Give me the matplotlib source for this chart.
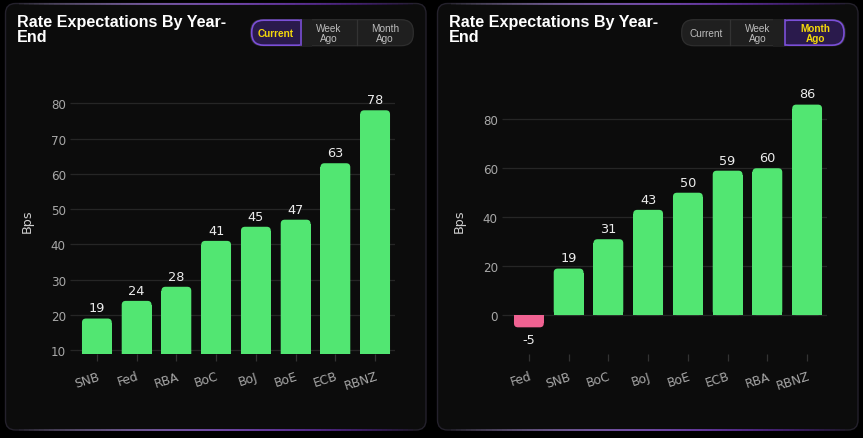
import matplotlib
matplotlib.use("Agg")
import matplotlib.pyplot as plt
from matplotlib.patches import FancyBboxPatch, Rectangle
from matplotlib.collections import LineCollection
import numpy as np

# ---------------- data ----------------
title = "Rate Expectations By Year-\nEnd"
buttons = ["Current", "Week\nAgo", "Month\nAgo"]

current_banks = ["SNB", "Fed", "RBA", "BoC", "BoJ", "BoE", "ECB", "RBNZ"]
current_values = [19, 24, 28, 41, 45, 47, 63, 78]

month_banks = ["Fed", "SNB", "BoC", "BoJ", "BoE", "ECB", "RBA", "RBNZ"]
month_values = [-5, 19, 31, 43, 50, 59, 60, 86]

left_yticks = [10, 20, 30, 40, 50, 60, 70, 80]
right_yticks = [0, 20, 40, 60, 80]
y_label = "Bps"

# ---------------- style ----------------
W, H = 863, 439
GREEN = "#52e672"
PINK = "#f06292"
CARD = "#0c0c0c"
GRID = "#262626"
TICK = "#a8a8a8"

fig = plt.figure(figsize=(W / 100, H / 100), dpi=100)
fig.patch.set_facecolor("#000000")

bg = fig.add_axes([0, 0, 1, 1], zorder=0)
bg.set_xlim(0, W)
bg.set_ylim(H, 0)
bg.axis("off")


def gradient_line(x0, x1, y, c0, c1, lw=1.2):
    xs = np.linspace(x0, x1, 80)
    segs = [[(xs[i], y), (xs[i + 1], y)] for i in range(len(xs) - 1)]
    c0 = np.array(matplotlib.colors.to_rgba(c0))
    c1 = np.array(matplotlib.colors.to_rgba(c1))
    t = np.linspace(0, 1, len(segs))
    cols = [c0 * (1 - ti) + c1 * ti for ti in t]
    for i, ti in enumerate(t):
        cols[i][3] = max(0.0, np.sin(np.pi * ti) ** 0.8) * 0.85
    bg.add_collection(LineCollection(segs, colors=cols, linewidths=lw, zorder=3))


def card(x0, x1, y0, y1):
    bg.add_patch(FancyBboxPatch((x0, y0), x1 - x0, y1 - y0,
                                boxstyle="round,pad=0,rounding_size=10",
                                facecolor=CARD, edgecolor="#24212c", linewidth=1.0, zorder=1))
    gradient_line(x0 + 8, x1 - 8, y0, "#b8a9d9", "#6a10d8")
    gradient_line(x0 + 8, x1 - 8, y1, "#b8a9d9", "#6a10d8")


def button_group(x_edges, y0, y1, active):
    x0, x3 = x_edges[0], x_edges[-1]
    bg.add_patch(FancyBboxPatch((x0, y0), x3 - x0, y1 - y0,
                                boxstyle="round,pad=0,rounding_size=12",
                                facecolor="#1f1f1f", edgecolor="#2e2e2e", linewidth=0.9, zorder=2))
    for xe in x_edges[1:-1]:
        bg.plot([xe, xe], [y0 + 0.5, y1 - 0.5], color="#333333", lw=0.9, zorder=3)
    a0, a1 = x_edges[active], x_edges[active + 1]
    if active == 0:
        style = FancyBboxPatch((a0 + 1, y0 + 0.5), a1 - a0 + 8, y1 - y0 - 1,
                               boxstyle="round,pad=0,rounding_size=12",
                               facecolor="#2a1a4c", edgecolor="#7b4fd8", linewidth=1.2, zorder=4)
        bg.add_patch(style)
        bg.add_patch(Rectangle((a1 - 1, y0 - 1), 12, y1 - y0 + 2, facecolor="#1f1f1f",
                               edgecolor="none", zorder=4.5))
        bg.plot([a1, a1], [y0 + 0.5, y1 - 0.5], color="#7b4fd8", lw=1.2, zorder=5)
    else:
        style = FancyBboxPatch((a0 - 8, y0 + 0.5), a1 - a0 + 7, y1 - y0 - 1,
                               boxstyle="round,pad=0,rounding_size=12",
                               facecolor="#2a1a4c", edgecolor="#7b4fd8", linewidth=1.2, zorder=4)
        bg.add_patch(style)
        bg.add_patch(Rectangle((a0 - 12, y0 - 1), 12, y1 - y0 + 2, facecolor="#1f1f1f",
                               edgecolor="none", zorder=4.5))
        bg.plot([a0, a0], [y0 + 0.5, y1 - 0.5], color="#7b4fd8", lw=1.2, zorder=5)
    for i, lab in enumerate(buttons):
        cx = (x_edges[i] + x_edges[i + 1]) / 2
        if i == active:
            bg.text(cx, (y0 + y1) / 2, lab, color="#f5d90a", fontsize=7.2, fontweight="bold",
                    family="Liberation Sans", ha="center", va="center", linespacing=0.95, zorder=6)
        else:
            bg.text(cx, (y0 + y1) / 2, lab, color="#bdbdbd", fontsize=7.2,
                    family="Liberation Sans", ha="center", va="center", linespacing=0.95, zorder=6)


card(5.5, 426, 4.5, 431)
card(437.5, 858, 4.5, 431)

for tx in (17, 449):
    bg.text(tx, 15.5, title, color="white", fontsize=11.6, fontweight="bold",
            family="Liberation Sans", ha="left", va="top", linespacing=0.95, zorder=6)

button_group([250.7, 301, 356.7, 413.3], 20.7, 46.7, 0)
button_group([681.7, 729.7, 785, 845], 20.7, 46.7, 2)


def px_axes(x0, x1, y0, y1):
    return fig.add_axes([x0 / W, 1 - y1 / H, (x1 - x0) / W, (y1 - y0) / H], zorder=2)


def draw_chart(ax, cats, vals, ylim, yticks, ylabel_text):
    ax.set_facecolor("none")
    ax.set_xlim(-0.5, len(cats) - 0.5)
    ax.set_ylim(*ylim)
    x = np.arange(len(cats))
    colors = [GREEN if v >= 0 else PINK for v in vals]
    bars = ax.bar(x, vals, width=0.75, color=colors)
    bb = ax.get_position()
    px_w = bb.width * W
    px_h = bb.height * H
    xu_per_px = (len(cats)) / px_w
    yu_per_px = (ylim[1] - ylim[0]) / px_h
    aspect = yu_per_px / xu_per_px
    rx = 4 * xu_per_px
    ry = rx * aspect
    for b, c in zip(bars, colors):
        b.set_visible(False)
        bx, bw = b.get_x(), b.get_width()
        h = b.get_height()
        y0 = b.get_y()
        lo, hi = min(y0, y0 + h), max(y0, y0 + h)
        ax.add_patch(FancyBboxPatch((bx, lo), bw, hi - lo,
                                    boxstyle=f"round,pad=0,rounding_size={rx}",
                                    mutation_aspect=aspect, facecolor=c, edgecolor="none", zorder=3))
        if h >= 0:
            ax.add_patch(Rectangle((bx, lo), bw, hi - lo - ry, facecolor=c, edgecolor="none", zorder=3))
            ax.annotate(f"{h:g}", (bx + bw / 2, hi), xytext=(0, 3), textcoords="offset points",
                        ha="center", va="bottom", color="#ececec", fontsize=9.3, zorder=5)
        else:
            ax.add_patch(Rectangle((bx, lo + ry), bw, hi - lo - ry, facecolor=c, edgecolor="none", zorder=3))
            ax.annotate(f"{h:g}", (bx + bw / 2, lo), xytext=(0, -4), textcoords="offset points",
                        ha="center", va="top", color="#ececec", fontsize=9.3, zorder=5)

    ax.set_yticks(yticks)
    ax.yaxis.grid(True, color=GRID, linewidth=0.9, zorder=0)
    ax.set_axisbelow(True)
    for s in ax.spines.values():
        s.set_visible(False)
    ax.tick_params(axis="y", length=5, width=0.9, color=GRID, labelcolor=TICK, labelsize=8.6, pad=3)
    ax.set_xticks(x)
    ax.set_xticklabels(cats, rotation=18, ha="right", rotation_mode="anchor")
    ax.tick_params(axis="x", length=5, width=0.9, color="#333333", labelcolor=TICK, labelsize=8.8, pad=6)
    ax.set_ylabel(ylabel_text, color="#cfcfcf", fontsize=9.2, labelpad=12)


ax1 = px_axes(77, 395, 88, 355)
draw_chart(ax1, current_banks, current_values, (8.95, 84.6), left_yticks, y_label)

ax2 = px_axes(509, 827, 88, 355)
draw_chart(ax2, month_banks, month_values, (-15.9, 93.2), right_yticks, y_label)

fig.savefig("out.png", dpi=100, facecolor=fig.get_facecolor())
